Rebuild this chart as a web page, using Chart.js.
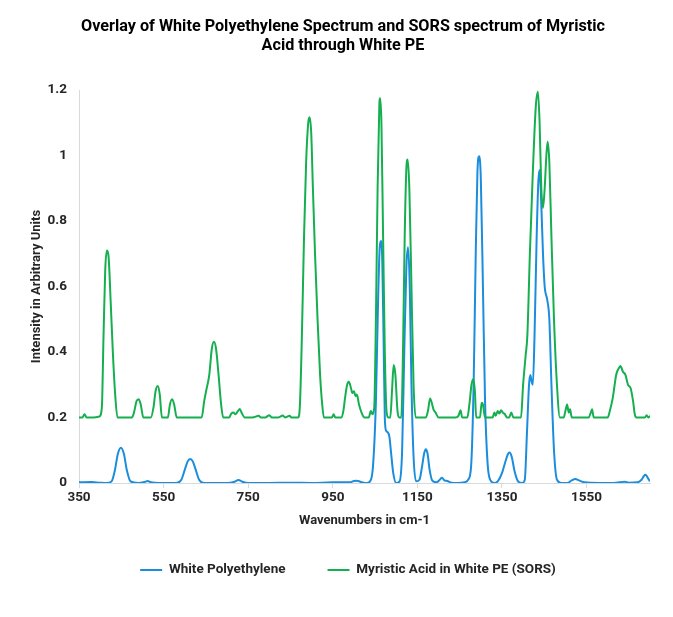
<!DOCTYPE html>
<html>
<head>
<meta charset="utf-8">
<script src="https://cdn.jsdelivr.net/npm/chart.js@4.4.1/dist/chart.umd.min.js"></script>
<style>
  html, body { margin: 0; padding: 0; background: #fff; }
</style>
</head>
<body>
<canvas id="chart" width="673" height="617"></canvas>
<script>
// Wavenumbers (cm-1) and intensities
const whitePeX = [350, 380, 400, 415, 427, 435, 442, 449, 456, 463, 472, 490, 505, 512, 520, 540, 580, 592, 600, 607, 613, 619, 626, 634, 645, 700, 718, 727, 736, 750, 800, 850, 900, 950, 990, 1000, 1007, 1015, 1030, 1038, 1045, 1052, 1057, 1061, 1064, 1067, 1070, 1073, 1076, 1080, 1084, 1088, 1093, 1100, 1108, 1114, 1119, 1124, 1128, 1132, 1136, 1141, 1147, 1155, 1161, 1166, 1170, 1174, 1179, 1185, 1195, 1203, 1208, 1214, 1221, 1228, 1245, 1262, 1270, 1277, 1283, 1288, 1292, 1296, 1300, 1305, 1310, 1316, 1323, 1332, 1340, 1350, 1358, 1364, 1368, 1373, 1380, 1388, 1398, 1404, 1409, 1414, 1417, 1420, 1423, 1427, 1432, 1436, 1439, 1443, 1447, 1451, 1457, 1462, 1467, 1473, 1480, 1490, 1505, 1515, 1524, 1532, 1545, 1580, 1620, 1640, 1650, 1670, 1680, 1686, 1690, 1695, 1700];
const whitePeY = [0.002, 0.003, 0.001, 0, 0.005, 0.04, 0.09, 0.108, 0.09, 0.04, 0.005, 0, 0.003, 0.006, 0.002, 0, 0, 0.01, 0.04, 0.066, 0.073, 0.066, 0.04, 0.01, 0, 0, 0.004, 0.009, 0.004, 0, 0, 0.001, 0, 0.002, 0.002, 0.006, 0.007, 0.004, 0, 0.005, 0.05, 0.25, 0.55, 0.72, 0.739, 0.68, 0.45, 0.2, 0.16, 0.155, 0.14, 0.09, 0.03, 0, 0.005, 0.1, 0.4, 0.66, 0.72, 0.6, 0.3, 0.08, 0.005, 0.01, 0.05, 0.09, 0.103, 0.09, 0.04, 0.008, 0.002, 0.01, 0.016, 0.008, 0.006, 0.002, 0, 0.002, 0.01, 0.05, 0.3, 0.7, 0.95, 0.998, 0.93, 0.6, 0.25, 0.06, 0.008, 0, 0.005, 0.03, 0.065, 0.088, 0.093, 0.08, 0.035, 0.005, 0, 0.01, 0.15, 0.3, 0.33, 0.31, 0.3, 0.45, 0.75, 0.92, 0.956, 0.85, 0.7, 0.6, 0.56, 0.5, 0.3, 0.1, 0.01, 0, 0, 0.008, 0.012, 0.008, 0.002, 0, 0.001, 0.004, 0.001, 0.002, 0.01, 0.022, 0.025, 0.015, 0.005];

const sorsX = [350, 358, 363, 368, 385, 398, 404, 408, 412, 416, 420, 425, 430, 435, 441, 475, 480, 486, 491, 496, 502, 520, 526, 531, 536, 541, 546, 560, 565, 570, 575, 581, 640, 646, 652, 658, 664, 669, 674, 680, 686, 691, 705, 710, 715, 720, 726, 730, 735, 742, 760, 775, 780, 790, 800, 806, 820, 832, 837, 848, 852, 868, 872, 877, 882, 887, 892, 895, 899, 903, 908, 914, 920, 925, 929, 948, 952, 956, 970, 975, 979, 984, 988, 993, 996, 1000, 1004, 1007, 1012, 1018, 1025, 1035, 1040, 1044, 1048, 1052, 1056, 1060, 1062, 1065, 1069, 1073, 1077, 1081, 1086, 1090, 1094, 1098, 1103, 1107, 1112, 1116, 1120, 1124, 1127, 1131, 1136, 1141, 1146, 1170, 1175, 1180, 1184, 1188, 1193, 1200, 1240, 1247, 1252, 1256, 1268, 1273, 1278, 1282, 1286, 1289, 1298, 1302, 1305, 1310, 1328, 1332, 1335, 1340, 1344, 1348, 1352, 1357, 1362, 1367, 1372, 1377, 1395, 1400, 1406, 1410, 1416, 1423, 1430, 1435, 1439, 1443, 1447, 1451, 1455, 1458, 1462, 1467, 1473, 1480, 1487, 1496, 1500, 1504, 1508, 1511, 1515, 1555, 1560, 1563, 1567, 1600, 1605, 1612, 1620, 1626, 1630, 1636, 1642, 1648, 1654, 1660, 1664, 1668, 1688, 1692, 1696, 1700];
const sorsY = [0.2, 0.2, 0.21, 0.2, 0.2, 0.203, 0.23, 0.45, 0.65, 0.71, 0.69, 0.55, 0.4, 0.28, 0.2, 0.2, 0.215, 0.25, 0.256, 0.24, 0.2, 0.2, 0.23, 0.28, 0.296, 0.27, 0.2, 0.2, 0.24, 0.256, 0.24, 0.2, 0.2, 0.25, 0.29, 0.33, 0.41, 0.431, 0.41, 0.33, 0.24, 0.2, 0.2, 0.212, 0.215, 0.21, 0.22, 0.226, 0.213, 0.2, 0.2, 0.205, 0.2, 0.2, 0.207, 0.2, 0.2, 0.206, 0.2, 0.205, 0.2, 0.2, 0.23, 0.45, 0.75, 0.98, 1.1, 1.117, 1.07, 0.9, 0.7, 0.5, 0.33, 0.24, 0.2, 0.2, 0.21, 0.2, 0.2, 0.22, 0.26, 0.3, 0.309, 0.29, 0.275, 0.28, 0.265, 0.27, 0.24, 0.215, 0.2, 0.2, 0.22, 0.21, 0.23, 0.5, 0.9, 1.15, 1.175, 1.1, 0.75, 0.4, 0.22, 0.2, 0.2, 0.28, 0.36, 0.33, 0.22, 0.2, 0.2, 0.4, 0.75, 0.96, 0.988, 0.9, 0.6, 0.3, 0.2, 0.2, 0.22, 0.258, 0.245, 0.225, 0.215, 0.2, 0.2, 0.205, 0.222, 0.2, 0.2, 0.24, 0.3, 0.317, 0.28, 0.2, 0.2, 0.245, 0.24, 0.2, 0.2, 0.215, 0.205, 0.22, 0.212, 0.222, 0.215, 0.21, 0.2, 0.2, 0.215, 0.2, 0.2, 0.3, 0.39, 0.45, 0.7, 0.95, 1.15, 1.195, 1.1, 0.9, 0.84, 0.9, 1.0, 1.042, 0.98, 0.75, 0.5, 0.3, 0.2, 0.2, 0.22, 0.24, 0.215, 0.225, 0.2, 0.2, 0.215, 0.225, 0.2, 0.2, 0.22, 0.26, 0.33, 0.35, 0.357, 0.34, 0.33, 0.3, 0.29, 0.25, 0.21, 0.2, 0.2, 0.207, 0.2, 0.205];

const seriesNames = ['White Polyethylene', 'Myristic Acid in White PE (SORS)'];
const xTicks = [350, 550, 750, 950, 1150, 1350, 1550];
const yTicks = [0, 0.2, 0.4, 0.6, 0.8, 1, 1.2];

const blue = '#1b8ddd';
const green = '#15af50';
const axisText = '#262626';

Chart.defaults.font.family = 'Roboto';

// nudges the title and legend to the centre Excel used
const shiftBoxes = {
  id: 'shiftBoxes',
  afterLayout(chart) {
    chart.titleBlock.left += 8;
    chart.titleBlock.right += 8;
    chart.legend.left += 13;
    chart.legend.right += 13;
  }
};

const toPoints = (xs, ys) => xs.map((x, i) => ({ x: x, y: ys[i] }));

new Chart(document.getElementById('chart'), {
  type: 'line',
  data: {
    datasets: [{
      label: seriesNames[0],
      data: toPoints(whitePeX, whitePeY),
      borderColor: blue,
      backgroundColor: blue,
      order: 1
    }, {
      label: seriesNames[1],
      data: toPoints(sorsX, sorsY),
      borderColor: green,
      backgroundColor: green,
      order: 0
    }]
  },
  options: {
    responsive: false,
    animation: false,
    layout: { padding: { left: 20, right: 23, top: 0, bottom: 30.25 } },
    elements: {
      line: { borderWidth: 2, tension: 0.4, cubicInterpolationMode: 'monotone' },
      point: { radius: 0 }
    },
    scales: {
      x: {
        type: 'linear',
        min: 350,
        max: 1700,
        afterBuildTicks: s => { s.ticks = xTicks.map(v => ({ value: v })); },
        afterFit: s => { s.height = 38.25; },
        grid: { display: true, drawOnChartArea: false, drawTicks: true, tickLength: 5, color: '#d9d9d9' },
        border: { display: true, color: '#d9d9d9' },
        ticks: {
          autoSkip: false, maxRotation: 0, padding: 2, color: axisText,
          font: { size: 13.5, weight: 'bold' },
          callback: v => String(v)
        },
        title: {
          display: true, text: 'Wavenumbers in cm-1', color: axisText,
          font: { size: 13, weight: 'bold' },
          padding: { top: 0, bottom: -7.55 }
        }
      },
      y: {
        min: 0,
        max: 1.2,
        afterBuildTicks: s => { s.ticks = yTicks.map(v => ({ value: v })); },
        afterFit: s => { s.width = 59; },
        grid: { display: false, drawTicks: false },
        border: { display: true, color: '#d9d9d9' },
        ticks: {
          padding: 12, color: axisText,
          font: { size: 13.5, weight: 'bold' },
          callback: v => String(v)
        },
        title: {
          display: true, text: 'Intensity in Arbitrary Units', color: axisText,
          font: { size: 13, weight: 'bold' },
          padding: { top: 9.2, bottom: 0 }
        }
      }
    },
    plugins: {
      title: {
        display: true,
        text: ['Overlay of White Polyethylene Spectrum and SORS spectrum of Myristic', 'Acid through White PE'],
        color: '#000',
        font: { size: 16.2, weight: 'bold', lineHeight: 1.18 },
        padding: { top: 17.44, bottom: 34.36 }
      },
      legend: {
        position: 'bottom',
        labels: {
          boxWidth: 22, boxHeight: 0, padding: 42, color: axisText,
          font: { size: 13.5, weight: 'bold' },
          sort: (a, b) => a.datasetIndex - b.datasetIndex
        }
      },
      tooltip: { enabled: false }
    }
  },
  plugins: [shiftBoxes]
});
</script>
</body>
</html>
